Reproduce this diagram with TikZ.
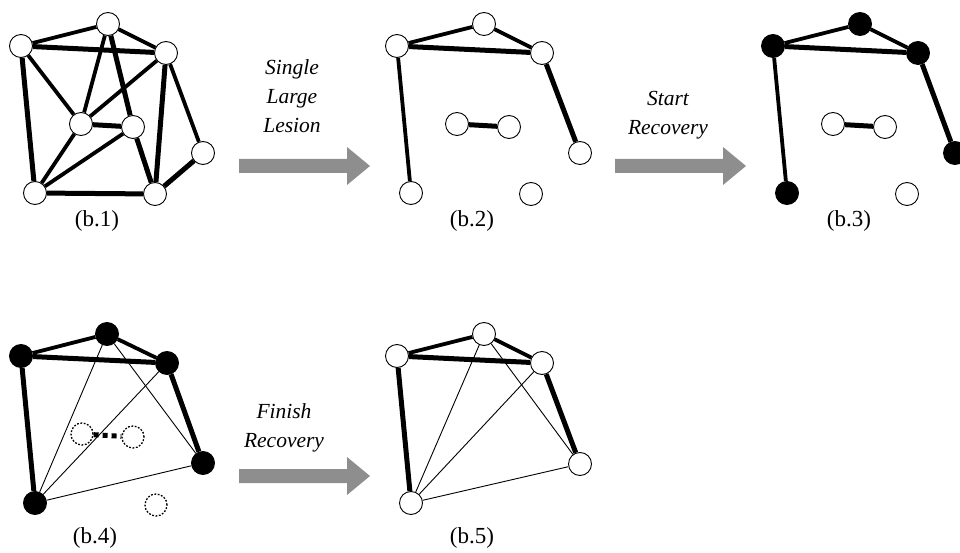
\documentclass[tikz,border=0pt]{standalone}
\usepackage{fontspec}
\setmainfont{Liberation Serif}
\definecolor{arrowgray}{RGB}{142,142,142}
% gray block arrow: left end of the shaft at (#1,#2), pointing right
\newcommand\grayarrow[2]{%
  \fill[arrowgray] (#1,#2) ++(0,-7) -- ++(108,0) -- ++(0,-12) -- ++(23,19)
    -- ++(-23,19) -- ++(0,-12) -- ++(-108,0) -- cycle;}
\begin{document}
\begin{tikzpicture}[x=1pt,y=-1pt,
  vtx/.style={circle,draw=black,fill=white,line width=0.9pt,minimum size=23pt,inner sep=0pt},
  hub/.style={vtx,fill=black},
  ghost/.style={circle,draw=black,line width=1.3pt,dash pattern=on 1.8pt off 1.6pt,minimum size=22pt,inner sep=0pt},
  link/.style={line width=3.8pt},
  heavy/.style={line width=5pt},
  fine/.style={line width=0.9pt},
  broken/.style={line width=5pt,dash pattern=on 5pt off 4pt},
  caption/.style={font=\fontsize{23}{27}\selectfont,anchor=base},
  verb/.style={font=\fontsize{21.5}{29}\selectfont\itshape,align=center,anchor=base,inner sep=0pt}
]
\clip (0,0) rectangle (960,553);

% ---------- (b.1) full network ----------
\node[vtx] (a1) at (21,46) {};
\node[vtx] (b1) at (108,24) {};
\node[vtx] (c1) at (166,53) {};
\node[vtx] (d1) at (81,124) {};
\node[vtx] (e1) at (133,127) {};
\node[vtx] (f1) at (203,153) {};
\node[vtx] (g1) at (35,193) {};
\node[vtx] (h1) at (155,194) {};
\draw[link] (a1) -- (b1);
\draw[heavy] (a1) -- (c1);
\draw[link] (b1) -- (c1);
\draw[link] (a1) -- (d1);
\draw[heavy] (a1) -- (g1);
\draw[link] (b1) -- (d1);
\draw[heavy] (b1) -- (e1);
\draw[link] (c1) -- (d1);
\draw[heavy] (c1) -- (h1);
\draw[link] (c1) -- (f1);
\draw[heavy] (d1) -- (e1);
\draw[link] (d1) -- (g1);
\draw[link] (e1) -- (g1);
\draw[heavy] (e1) -- (h1);
\draw[heavy] (g1) -- (h1);
\draw[heavy] (f1) -- (h1);
\node[caption] (l1) at (97,226) {(b.1)};

% ---------- arrow 1 (base = last line) ----------
\node[verb] (t1) at (292,133) {Single\\Large\\Lesion};
\grayarrow{239}{166}

% ---------- (b.2) after the lesion ----------
\begin{scope}[shift={(376,0)}]
\node[vtx] (a2) at (21,46) {};
\node[vtx] (b2) at (108,24) {};
\node[vtx] (c2) at (166,53) {};
\node[vtx] (d2) at (81,124) {};
\node[vtx] (e2) at (133,127) {};
\node[vtx] (f2) at (204,153) {};
\node[vtx] (g2) at (35,193) {};
\node[vtx] (h2) at (155,194) {};
\draw[link] (a2) -- (b2);
\draw[heavy] (a2) -- (c2);
\draw[link] (b2) -- (c2);
\draw[link] (a2) -- (g2);
\draw[heavy] (c2) -- (f2);
\draw[heavy] (d2) -- (e2);
\node[caption] (l2) at (96,226) {(b.2)};
\end{scope}

% ---------- arrow 2 ----------
\node[verb] (t2) at (668,135) {Start\\Recovery};
\grayarrow{615}{166}

% ---------- (b.3) recovery starts ----------
\begin{scope}[shift={(752,0)}]
\node[hub] (a3) at (21,46) {};
\node[hub] (b3) at (108,24) {};
\node[hub] (c3) at (166,53) {};
\node[vtx] (d3) at (81,124) {};
\node[vtx] (e3) at (133,127) {};
\node[hub] (f3) at (203,153) {};
\node[hub] (g3) at (35,193) {};
\node[vtx] (h3) at (155,194) {};
\draw[link] (a3) -- (b3);
\draw[heavy] (a3) -- (c3);
\draw[link] (b3) -- (c3);
\draw[link] (a3) -- (g3);
\draw[heavy] (c3) -- (f3);
\draw[heavy] (d3) -- (e3);
\node[caption] (l3) at (97,226) {(b.3)};
\end{scope}

% ---------- (b.4) rewiring ----------
\begin{scope}[shift={(0,310)}]
\node[hub] (a4) at (21,46) {};
\node[hub] (b4) at (107,24) {};
\node[hub] (c4) at (167,53) {};
\node[ghost] (d4) at (82,124) {};
\node[ghost] (e4) at (133,127) {};
\node[hub] (f4) at (203,153) {};
\node[hub] (g4) at (35,193) {};
\node[ghost] (h4) at (156,195) {};
\draw[link] (a4) -- (b4);
\draw[heavy] (a4) -- (c4);
\draw[link] (b4) -- (c4);
\draw[heavy] (a4) -- (g4);
\draw[heavy] (c4) -- (f4);
\draw[fine] (g4) -- (b4);
\draw[fine] (g4) -- (c4);
\draw[fine] (b4) -- (f4);
\draw[fine] (g4) -- (f4);
\draw[broken] (d4) -- (e4);
\node[caption] (l4) at (95,233) {(b.4)};
\end{scope}

% ---------- arrow 3 ----------
\node[verb] (t3) at (284,447) {Finish\\Recovery};
\grayarrow{239}{476}

% ---------- (b.5) recovered network ----------
\begin{scope}[shift={(376,310)}]
\node[vtx] (a5) at (21,46) {};
\node[vtx] (b5) at (108,24) {};
\node[vtx] (c5) at (166,53) {};
\node[vtx] (f5) at (204,154) {};
\node[vtx] (g5) at (35,193) {};
\draw[link] (a5) -- (b5);
\draw[heavy] (a5) -- (c5);
\draw[link] (b5) -- (c5);
\draw[heavy] (a5) -- (g5);
\draw[heavy] (c5) -- (f5);
\draw[fine] (g5) -- (b5);
\draw[fine] (g5) -- (c5);
\draw[fine] (b5) -- (f5);
\draw[fine] (g5) -- (f5);
\node[caption] (l5) at (96,233) {(b.5)};
\end{scope}
\end{tikzpicture}
\end{document}
